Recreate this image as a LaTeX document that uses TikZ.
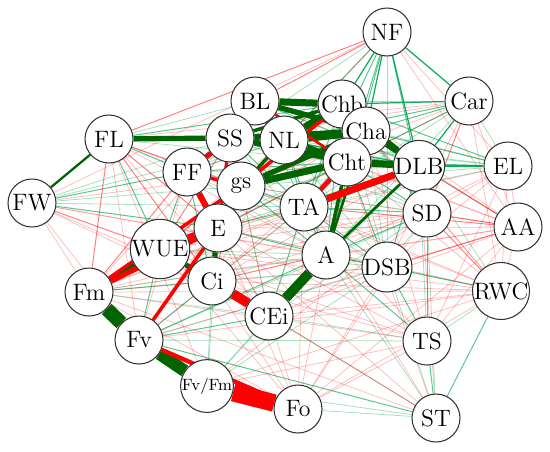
\documentclass[tikz,border=0pt]{standalone}
\usepackage{tikz}
\usetikzlibrary{backgrounds}
\definecolor{Pos}{HTML}{00A651}
\definecolor{PosDark}{HTML}{006400}
\definecolor{Neg}{HTML}{FF0000}
\definecolor{Rim}{HTML}{333333}

\begin{document}
\begin{tikzpicture}[x=0.02cm,y=-0.02cm,
    var/.style={circle,draw=Rim,line width=.6pt,fill=white,minimum size=.96cm,inner sep=0pt,font=\fontsize{13.5}{15}\selectfont},
    pos1/.style={Pos,opacity=.35,line width=.45pt},
    pos2/.style={Pos,opacity=.65,line width=.55pt},
    pos3/.style={Pos,opacity=.95,line width=.7pt},
    neg1/.style={Neg,opacity=.25,line width=.45pt},
    neg2/.style={Neg,opacity=.5,line width=.55pt},
    neg3/.style={Neg,opacity=.85,line width=.7pt}]
  \useasboundingbox (0,0) rectangle (550,451);
  \foreach \name/\x/\y in {NF/387/32,Car/469/101,BL/255/101,Chb/342/104,Cha/366/131,FL/109/139,SS/230/138,NL/284/140,
      Cht/347/162,DLB/419/166,EL/508/166,FF/187/172,gs/241/186,FW/32/203,TA/304/207,SD/427/213,AA/518/227,E/218/228,
      WUE/160/249,A/326/255,DSB/387/267,Ci/212/281,RWC/501/291,Fm/89/292,CEi/269/316,Fv/139/340,TS/427/341,Fo/298/409,ST/436/418}
    \node[var] (\name) at (\x,\y) {\name};
  \node[var,font=\fontsize{9.3}{11}\selectfont] (FvFm) at (207,386) {Fv/Fm};
  \begin{scope}[on background layer]
    \foreach \a/\b/\s in {NF/Car/3,NF/Chb/3,NF/Cha/3,NF/Cht/2,NF/DLB/3,NF/NL/2,NF/SS/1,NF/TA/2,NF/A/2,NF/SD/2,NF/DSB/1,
        Car/Chb/3,Car/Cha/2,Car/Cht/2,Car/DLB/3,Car/EL/1,Car/TA/1,Car/NL/2,Car/BL/1,Car/A/1,
        EL/Cha/2,EL/Chb/2,EL/Cht/2,EL/DLB/3,EL/NL/1,EL/BL/1,EL/SS/1,EL/TA/1,EL/gs/1,
        FL/Chb/2,FL/BL/1,FL/NL/2,FL/Cha/1,FL/FF/2,FL/WUE/2,FL/Cht/1,
        FW/FF/2,FW/SS/1,FW/NL/1,FW/gs/1,FW/E/2,FW/TA/1,
        FF/Cht/2,FF/Chb/1,FF/NL/2,FF/TA/1,FF/A/1,FF/DLB/1,FF/WUE/2,FF/Ci/2,
        SS/DLB/2,SS/TA/2,SS/A/1,SS/SD/1,NL/DLB/3,NL/TA/2,NL/A/2,NL/SD/1,NL/DSB/1,
        BL/DLB/2,BL/TA/1,BL/A/1,Chb/TA/2,Chb/A/2,Chb/SD/1,Chb/DSB/1,Cha/TA/2,Cha/SD/2,Cha/DSB/1,
        Cht/SD/2,Cht/DSB/2,Cht/E/2,Cht/WUE/1,
        DLB/SD/2,DLB/DSB/2,DLB/AA/1,DLB/RWC/1,DLB/TS/1,DLB/E/1,DLB/CEi/1,
        gs/A/2,gs/DSB/1,gs/SD/1,gs/TA/2,gs/CEi/1,
        TA/A/2,TA/SD/2,TA/DSB/2,TA/CEi/2,TA/Ci/1,TA/E/2,TA/WUE/1,
        E/A/2,E/DSB/1,E/CEi/1,E/FvFm/1,WUE/A/1,WUE/CEi/2,WUE/Fv/2,WUE/DSB/1,
        Ci/Fv/2,Ci/FvFm/1,Ci/DSB/1,
        A/DSB/2,A/SD/2,A/TS/2,A/Fv/2,A/Fm/1,A/FvFm/1,A/ST/1,A/RWC/1,
        DSB/SD/1,DSB/TS/2,DSB/ST/1,DSB/RWC/2,DSB/Fv/1,DSB/FvFm/1,
        Fm/Ci/2,Fm/CEi/1,Fv/CEi/2,Fv/TS/1,Fv/ST/2,Fv/SD/1,FvFm/CEi/1,FvFm/ST/1,Fo/ST/1,
        TS/ST/2,TS/RWC/1,TS/SD/2,RWC/ST/2,SD/ST/1,CEi/ST/1,CEi/TS/1,CEi/SD/1}
      \draw[pos\s] (\a) -- (\b);
    \foreach \a/\b/\s in {NF/FL/2,NF/FW/1,NF/BL/2,NF/gs/1,NF/EL/1,NF/AA/1,
        Car/AA/1,Car/SD/2,Car/DSB/1,Car/FL/1,Car/SS/1,Car/RWC/1,Car/gs/1,Car/E/1,
        EL/RWC/1,EL/SD/1,EL/DSB/1,EL/AA/1,EL/A/1,EL/TS/1,EL/E/1,
        FL/gs/2,FL/E/2,FL/Ci/2,FL/Fm/2,FL/Fv/1,FL/TA/1,FL/CEi/1,FL/FvFm/1,FL/A/1,
        FW/Fm/1,FW/Ci/1,FW/WUE/2,FW/CEi/1,FW/Fv/1,FW/A/1,FW/DSB/1,FW/Cht/1,
        FF/Fm/2,FF/Fv/1,FF/CEi/1,FF/DSB/1,SS/Ci/1,SS/Fm/1,SS/WUE/2,SS/CEi/1,
        NL/E/1,NL/WUE/1,NL/Ci/1,NL/AA/1,Chb/AA/1,Chb/RWC/1,Chb/E/1,Chb/WUE/1,
        Cha/AA/1,Cha/RWC/1,Cha/TS/1,Cha/WUE/1,Cht/AA/1,Cht/RWC/1,Cht/Fm/1,Cht/Ci/1,Cht/ST/1,
        DLB/AA/2,DLB/ST/1,DLB/WUE/1,DLB/Fm/1,DLB/Ci/1,gs/WUE/2,gs/Ci/2,gs/Fv/1,gs/AA/1,gs/RWC/1,
        TA/AA/2,TA/RWC/1,TA/Fm/1,TA/Fv/1,TA/Fo/1,TA/ST/1,TA/TS/1,
        SD/AA/2,SD/RWC/2,SD/Fo/1,SD/E/1,SD/WUE/1,SD/Fm/1,SD/Ci/1,
        AA/DSB/2,AA/RWC/1,AA/TS/1,AA/A/1,AA/E/1,AA/CEi/1,AA/Fm/1,
        E/Fo/1,E/ST/1,E/TS/1,E/RWC/1,WUE/RWC/1,WUE/ST/1,WUE/TS/1,WUE/Fo/1,
        A/Fo/1,A/Ci/2,DSB/Fo/1,DSB/Fm/1,DSB/CEi/1,Fv/RWC/1,Fv/AA/1,
        FvFm/TS/1,FvFm/RWC/1,FvFm/SD/1,Fo/TS/1,Fo/CEi/1,Fo/RWC/1,Fo/AA/1,
        Ci/Fo/1,Ci/TS/1,Ci/ST/1,Ci/RWC/1,CEi/RWC/1,Fm/TS/1,Fm/ST/1,Fm/Fo/1,Fm/RWC/1}
      \draw[neg\s] (\a) -- (\b);
    \foreach \a/\b/\w in {FL/FW/1.3,A/Cht/2,A/DLB/1.5,A/Cha/1.5,Fm/WUE/2.5,WUE/Ci/3,E/Ci/3,FL/SS/3,gs/Cht/4,gs/Cha/3,gs/NL/2,
        BL/Chb/4,BL/Cha/3,BL/NL/3,BL/SS/2,SS/NL/4,SS/Cha/3,SS/Cht/3,SS/Chb/2,NL/Chb/4,NL/Cha/5,NL/Cht/4,
        Chb/Cht/2,Chb/Cha/2,Cha/Cht/2,Cha/DLB/3,Cht/DLB/4,Chb/DLB/2,A/CEi/5.5,Fv/FvFm/7,Fm/Fv/8}
      \draw[PosDark,line width=\w pt] (\a) -- (\b);
    \foreach \a/\b/\w in {BL/Cht/1.5,gs/Chb/2,SS/gs/2.5,FF/gs/2,SS/E/2,SS/FF/3,FF/E/3.5,TA/Cht/2.5,TA/DLB/4,
        Fm/gs/2,Fm/E/3,Fv/E/2,Fv/Fo/2.5,WUE/E/5,Ci/CEi/5.5,FvFm/Fo/10}
      \draw[Neg,line width=\w pt] (\a) -- (\b);
  \end{scope}
\end{tikzpicture}
\end{document}
